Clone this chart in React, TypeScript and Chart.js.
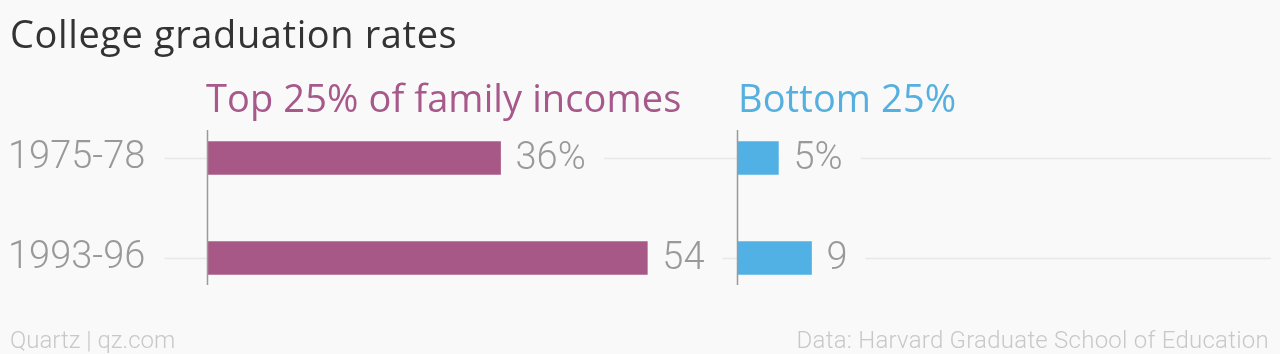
import { useEffect, useRef } from "react";
import { Chart, registerables } from "chart.js";

Chart.register(...registerables);

const title = "College graduation rates";
const categories = ["1975-78", "1993-96"];
const seriesNames = ["Top 25% of family incomes", "Bottom 25%"];
const topIncome = [36, 54];
const bottomIncome = [5, 9];
const panelMax = [65, 64.5];
const panelWeight = [530, 534];
const sourceLeft = "Quartz | qz.com";
const sourceRight = "Data: Harvard Graduate School of Education";

const BG = "#f9f9f9";
const GREY = "#999999";
const COLORS = ["#a85886", "#52b1e4"];
const HEAD_COLORS = ["#a6598a", "#55b0e0"];
const LABEL_FONT = "300 38px Roboto";

function formatValue(v: number, row: number) {
  return row === 0 ? `${v}%` : `${v}`;
}

export default function App() {
  const ref = useRef<HTMLCanvasElement>(null);

  useEffect(() => {
    document.body.style.margin = "0";
    document.body.style.background = BG;
    const canvas = ref.current;
    if (!canvas) return;
    const series = [topIncome, bottomIncome];
    const axisIds = ["x", "x2"];

    const panelPlugin = {
      id: "panelDecor",
      beforeDatasetsDraw(chart: any) {
        const ctx = chart.ctx;
        const yScale = chart.scales.y;
        const area = chart.chartArea;
        ctx.save();
        ctx.font = LABEL_FONT;
        categories.forEach((cat, i) => {
          const py = Math.round(yScale.getPixelForValue(i)) + 0.5;
          const tw = ctx.measureText(cat).width;
          const start = yScale.left + tw + 19;
          ctx.strokeStyle = "#e8e8e8";
          ctx.lineWidth = 1.5;
          ctx.beginPath();
          ctx.moveTo(start, py);
          ctx.lineTo(area.right, py);
          ctx.stroke();
          ctx.fillStyle = BG;
          series.forEach((vals, k) => {
            const xs = chart.scales[axisIds[k]];
            const lx = xs.getPixelForValue(vals[i]) + 15;
            const w = ctx.measureText(formatValue(vals[i], i)).width;
            ctx.fillRect(lx - 14, py - 22, w + 32, 44);
          });
        });
        ctx.restore();
      },
      afterDatasetsDraw(chart: any) {
        const ctx = chart.ctx;
        const yScale = chart.scales.y;
        const band = yScale.getPixelForValue(1) - yScale.getPixelForValue(0);
        const top = yScale.getPixelForValue(0) - band * 0.28;
        const bottom = yScale.getPixelForValue(categories.length - 1) + band * 0.27;
        ctx.save();
        axisIds.forEach((id) => {
          const x0 = Math.round(chart.scales[id].getPixelForValue(0)) + 0.5;
          ctx.strokeStyle = "#9a9a9a";
          ctx.lineWidth = 1.5;
          ctx.beginPath();
          ctx.moveTo(x0, top);
          ctx.lineTo(x0, bottom);
          ctx.stroke();
        });
        ctx.font = LABEL_FONT;
        ctx.fillStyle = GREY;
        ctx.textAlign = "left";
        ctx.textBaseline = "middle";
        categories.forEach((_, i) => {
          const py = yScale.getPixelForValue(i);
          series.forEach((vals, k) => {
            const xs = chart.scales[axisIds[k]];
            ctx.fillText(formatValue(vals[i], i), xs.getPixelForValue(vals[i]) + 15, py + 1);
          });
        });
        ctx.restore();
      },
    };

    const hiddenX = (max: number, weight: number) => ({
      type: "linear" as const,
      position: "bottom" as const,
      stack: "panels",
      stackWeight: weight,
      min: 0,
      max,
      grid: { display: false, drawTicks: false },
      border: { display: false },
      ticks: { display: false },
    });

    const chart = new Chart(canvas, {
      type: "bar",
      data: {
        labels: categories,
        datasets: [
          {
            label: seriesNames[0],
            data: topIncome,
            xAxisID: "x",
            backgroundColor: COLORS[0],
            barThickness: 33,
            grouped: false,
          },
          {
            label: seriesNames[1],
            data: bottomIncome,
            xAxisID: "x2",
            backgroundColor: COLORS[1],
            barThickness: 33,
            grouped: false,
          },
        ],
      },
      options: {
        indexAxis: "y",
        responsive: false,
        animation: false,
        layout: { padding: { left: 8, right: 9, top: 108, bottom: 46 } },
        plugins: { legend: { display: false }, tooltip: { enabled: false } },
        scales: {
          y: {
            type: "category",
            position: "left",
            offset: true,
            grid: { display: false },
            border: { display: false },
            ticks: {
              crossAlign: "far",
              color: GREY,
              font: { family: "Roboto", size: 38, weight: "300" },
              padding: 0,
            },
            afterFit: (s: any) => {
              s.width = 199;
            },
          },
          x: hiddenX(panelMax[0], panelWeight[0]),
          x2: hiddenX(panelMax[1], panelWeight[1]),
        },
      },
      plugins: [panelPlugin],
    } as any);

    return () => chart.destroy();
  }, []);

  const headStyle = (left: number, color: string): React.CSSProperties => ({
    position: "absolute",
    left,
    top: 78,
    fontFamily: "'Open Sans'",
    fontWeight: 400,
    fontSize: 38,
    letterSpacing: 0.1,
    lineHeight: 1,
    color,
    whiteSpace: "nowrap",
  });

  const footStyle: React.CSSProperties = {
    position: "absolute",
    top: 328,
    fontFamily: "Roboto",
    fontWeight: 300,
    fontSize: 24,
    lineHeight: 1,
    color: "#c8c8c8",
    whiteSpace: "nowrap",
  };

  return (
    <div style={{ position: "relative", width: 1280, height: 354, background: BG, overflow: "hidden" }}>
      <canvas ref={ref} width={1280} height={354} style={{ position: "absolute", left: 0, top: 0 }} />
      <div
        style={{
          position: "absolute",
          left: 10,
          top: 14,
          fontFamily: "'Open Sans'",
          fontSize: 38,
          letterSpacing: 0.6,
          lineHeight: 1,
          color: "#333333",
          whiteSpace: "nowrap",
        }}
      >
        {title}
      </div>
      <div style={headStyle(206, HEAD_COLORS[0])}>{seriesNames[0]}</div>
      <div style={headStyle(738, HEAD_COLORS[1])}>{seriesNames[1]}</div>
      <div style={{ ...footStyle, left: 10 }}>{sourceLeft}</div>
      <div style={{ ...footStyle, right: 11, letterSpacing: 0.25 }}>{sourceRight}</div>
    </div>
  );
}
